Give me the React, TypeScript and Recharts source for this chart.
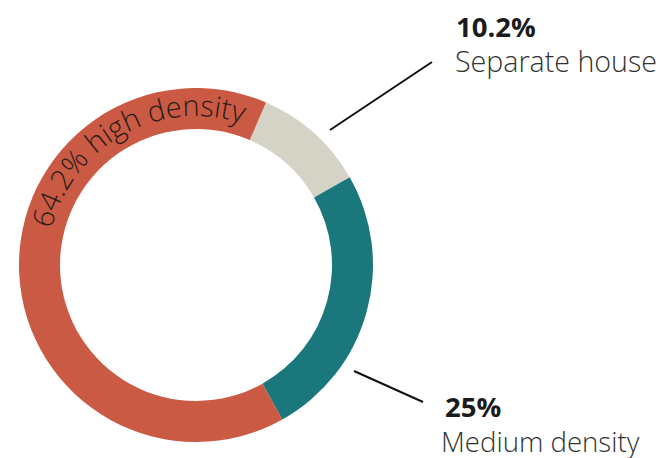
import React from "react"
import { PieChart, Pie, Cell } from "recharts"

const categories = ["Separate house", "Medium density", "high density"]
const shares = [10.2, 25, 64.2]
const colors = ["#D5D2C6", "#1A777C", "#CB5A45"]

const data = categories.map((name, i) => ({ name, value: shares[i] }))

const FONT = "'Open Sans', 'Noto Sans', sans-serif"

// point on a circle, angle measured clockwise from 12 o'clock
function polar(cx: number, cy: number, r: number, deg: number) {
  const a = (deg * Math.PI) / 180
  return { x: cx + r * Math.sin(a), y: cy - r * Math.cos(a) }
}

function renderLabel(props: any) {
  const { cx, cy, index, innerRadius, name, value } = props

  if (index === 0) {
    return (
      <g>
        <line x1={cx + 134} y1={cy - 135} x2={cx + 236} y2={cy - 203} stroke="#111" strokeWidth={2} />
        <text x={cx + 260} y={cy - 228} fontFamily={FONT} fontWeight={700} fontSize={27.5} fill="#1b1b1b">
          {value}%
        </text>
        <text x={cx + 259} y={cy - 193} fontFamily={FONT} fontWeight={300} fontSize={28.6} fill="#333">
          {name}
        </text>
      </g>
    )
  }

  if (index === 1) {
    return (
      <g>
        <line x1={cx + 158} y1={cy + 106} x2={cx + 227} y2={cy + 137} stroke="#111" strokeWidth={2} />
        <text x={cx + 249} y={cy + 152} fontFamily={FONT} fontWeight={700} fontSize={27.5} fill="#1b1b1b">
          {value}%
        </text>
        <text x={cx + 245} y={cy + 187} fontFamily={FONT} fontWeight={300} fontSize={27.6} fill="#333">
          {name}
        </text>
      </g>
    )
  }

  // curved label along the big slice
  const r = innerRadius + 13
  const p1 = polar(cx, cy, r, -76)
  const p2 = polar(cx, cy, r, 22)
  const d = `M ${p1.x} ${p1.y} A ${r} ${r} 0 0 1 ${p2.x} ${p2.y}`
  return (
    <g>
      <path id="hd-arc" d={d} fill="none" stroke="none" />
      <text fontFamily={FONT} fontWeight={300} fontSize={29} fill="#2a1c18">
        <textPath href="#hd-arc">{`${value}% ${name}`}</textPath>
      </text>
    </g>
  )
}

export default function App() {
  return (
    <div style={{ position: "absolute", left: 0, top: 0, background: "#fff" }}>
      <PieChart width={665} height={458} margin={{ top: 0, right: 0, bottom: 0, left: 0 }}>
        <Pie
          data={data}
          dataKey="value"
          nameKey="name"
          cx={196}
          cy={265}
          innerRadius={136}
          outerRadius={177}
          startAngle={66.7}
          endAngle={-293.3}
          stroke="none"
          label={renderLabel}
          labelLine={false}
          isAnimationActive={false}
        >
          {data.map((d, i) => (
            <Cell key={d.name} fill={colors[i]} />
          ))}
        </Pie>
      </PieChart>
    </div>
  )
}
